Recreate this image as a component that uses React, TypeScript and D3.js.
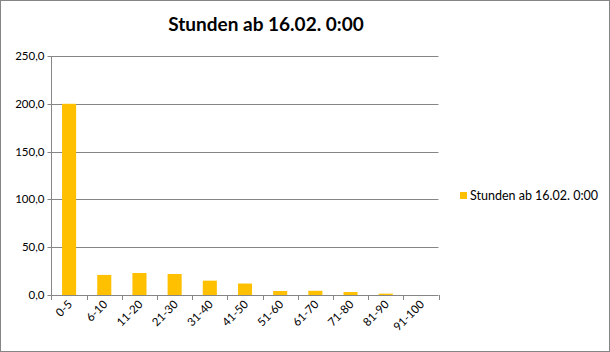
import React from "react";
import * as d3 from "d3";

const categories = ["0-5", "6-10", "11-20", "21-30", "31-40", "41-50", "51-60", "61-70", "71-80", "81-90", "91-100"];
const values = [200, 21, 23, 22, 15, 12, 4.2, 4.4, 3.1, 1.4, 0];
const yTicks = [0, 50, 100, 150, 200, 250];
const seriesName = "Stunden ab 16.02. 0:00";
const title = "Stunden ab 16.02. 0:00";

const W = 610, H = 352;
const plot = { left: 51.5, right: 438.5, top: 56, bottom: 295 };
const font = "Lato, 'Open Sans', sans-serif";

export default function App() {
  const x = d3.scaleBand<string>().domain(categories).range([plot.left, plot.right]).paddingInner(0.6).paddingOuter(0.3);
  const xOuter = d3.scaleBand<string>().domain(categories).range([plot.left, plot.right]);
  const y = d3.scaleLinear().domain([0, 250]).range([plot.bottom, plot.top]);
  const fmt = (v: number) => d3.format(".1f")(v).replace(".", ",");
  return (
    <svg width={W} height={H} style={{ position: "absolute", left: 0, top: 0, fontFamily: font }}>
      <rect x={0.5} y={0.5} width={W - 1} height={H - 1} fill="#fff" stroke="#868686" />
      <text x={266} y={31} textAnchor="middle" fontSize={19} fontWeight="bold" fill="#000">{title}</text>
      {yTicks.map(t => (
        <g key={t}>
          <line x1={plot.left - 4} x2={plot.right} y1={Math.round(y(t)) + 0.5} y2={Math.round(y(t)) + 0.5} stroke="#868686" />
          <text x={plot.left - 7} y={y(t) + 4} textAnchor="end" fontSize={11.5} fill="#000">{fmt(t)}</text>
        </g>
      ))}
      <line x1={plot.left} x2={plot.left} y1={plot.top} y2={plot.bottom + 5} stroke="#868686" />
      {categories.map((c, i) => (
        <line key={"t" + c} x1={Math.round(xOuter(c)! + xOuter.bandwidth()) + 0.5} x2={Math.round(xOuter(c)! + xOuter.bandwidth()) + 0.5} y1={plot.bottom} y2={plot.bottom + 5} stroke="#868686" />
      ))}
      {categories.map((c, i) => (
        <rect key={"b" + c} x={x(c)!} width={x.bandwidth()} y={y(values[i])} height={plot.bottom - y(values[i])} fill="#FFC000" />
      ))}
      {categories.map(c => {
        const cx = xOuter(c)! + xOuter.bandwidth() / 2 + 4;
        const cy = plot.bottom + 10;
        return (
          <text key={"l" + c} x={cx} y={cy} textAnchor="end" fontSize={11.5} fill="#000" transform={`rotate(-45 ${cx} ${cy})`}>{c}</text>
        );
      })}
      <rect x={460} y={192} width={7} height={7} fill="#FFC000" />
      <text x={470} y={200} fontSize={12.5} fill="#000">{seriesName}</text>
    </svg>
  );
}
